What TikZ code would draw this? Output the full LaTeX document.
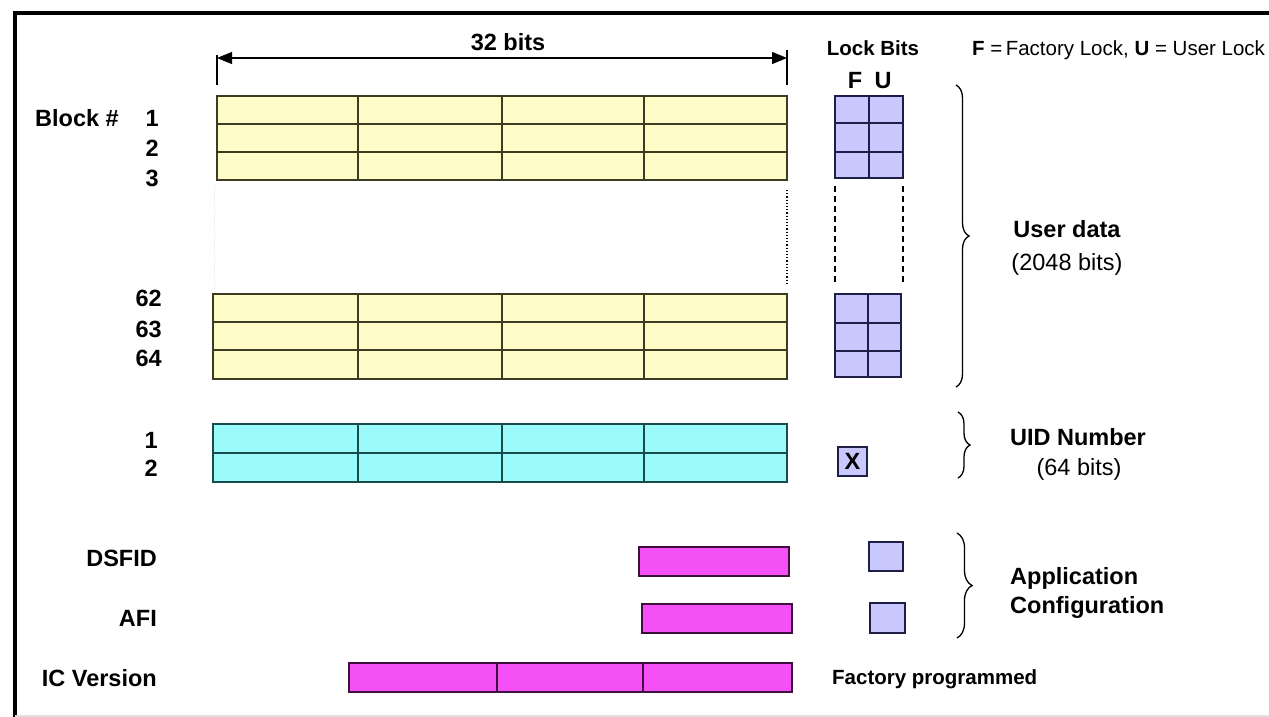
\documentclass[tikz,border=0pt]{standalone}
\usepackage{fontspec}
\setmainfont{Liberation Sans}
\usetikzlibrary{arrows.meta, decorations.pathreplacing, positioning}
\definecolor{blocyellow}{RGB}{255,252,200}
\definecolor{blocline}{RGB}{60,60,35}
\definecolor{uidcyan}{RGB}{155,250,250}
\definecolor{uidline}{RGB}{25,75,75}
\definecolor{cfgpink}{RGB}{245,80,245}
\definecolor{cfgline}{RGB}{60,15,60}
\definecolor{locklav}{RGB}{200,200,255}
\definecolor{lockline}{RGB}{30,30,70}
\tikzset{
  lbl/.style={font=\fontsize{23.5}{26}\selectfont\bfseries, inner sep=0pt, text height=16.8pt, text depth=0pt},
  txt/.style={font=\fontsize{23.5}{26}\selectfont, inner sep=0pt, text height=16.8pt, text depth=0pt},
  smalllbl/.style={font=\fontsize{20.5}{23}\selectfont\bfseries, inner sep=0pt, text height=14.7pt, text depth=0pt},
  smalltxt/.style={font=\fontsize{20.5}{23}\selectfont, inner sep=0pt, text height=14.7pt, text depth=0pt},
  gridline/.style={line width=1.6pt},
  brc/.style={decorate, decoration={brace, amplitude=#1}, line width=1.3pt},
  dimarrow/.style={line width=1.2pt, {Triangle[length=15pt,width=12pt]}-{Triangle[length=15pt,width=12pt]}},
}

\begin{document}
\begin{tikzpicture}[x=1pt, y=-1pt]
  \useasboundingbox (0,0) rectangle (1269,717);
  \fill[white] (0,0) rectangle (1269,717);

  %cadre
  \draw[line width=4.5pt] (15,720) -- (15,13) -- (1275,13);
  \draw[gray!25, line width=1.5pt] (15,716) -- (1269,716);

  %largeur 32 bits
  \coordinate (wl) at (217,58);
  \coordinate (wr) at (787,58);
  \draw[line width=1.2pt] (217,55) -- (217,85);
  \draw[line width=1.2pt] (787,50) -- (787,85);
  \draw[dimarrow] (wl) -- (wr);
  \node[lbl] (width) at (508,42) {32 bits};

  %blocs utilisateur 1-3
  \draw[gridline, draw=blocline, fill=blocyellow] (217,96) rectangle (787,180);
  \foreach \y in {124,152} \draw[gridline, blocline] (217,\y) -- (787,\y);
  \foreach \x in {358,502,644} \draw[gridline, blocline] (\x,96) -- (\x,180);

  %pointilles
  \draw[line width=1.2pt, dotted] (787,190) -- (787,285);
  \draw[gray!20, dotted] (214,185) -- (214,290);

  %blocs utilisateur 62-64
  \draw[gridline, draw=blocline, fill=blocyellow] (213,294) rectangle (787,379);
  \foreach \y in {322,350} \draw[gridline, blocline] (213,\y) -- (787,\y);
  \foreach \x in {358,502,644} \draw[gridline, blocline] (\x,294) -- (\x,379);

  %UID
  \draw[gridline, draw=uidline, fill=uidcyan] (213,424) rectangle (787,482);
  \draw[gridline, uidline] (213,453) -- (787,453);
  \foreach \x in {358,502,644} \draw[gridline, uidline] (\x,424) -- (\x,482);

  %DSFID, AFI, IC version
  \draw[gridline, draw=cfgline, fill=cfgpink] (639,547) rectangle (789,576);
  \draw[gridline, draw=cfgline, fill=cfgpink] (642,604) rectangle (792,633);
  \draw[gridline, draw=cfgline, fill=cfgpink] (349,663) rectangle (792,692);
  \foreach \x in {497,643} \draw[gridline, cfgline] (\x,663) -- (\x,692);

  %bits de verrouillage
  \draw[gridline, draw=lockline, fill=locklav] (835,96) rectangle (903,178);
  \foreach \y in {123,152} \draw[gridline, lockline] (835,\y) -- (903,\y);
  \draw[gridline, lockline] (869,96) -- (869,178);
  \draw[line width=1.3pt, dash pattern=on 6pt off 4pt] (835,186) -- (835,283);
  \draw[line width=1.3pt, dash pattern=on 6pt off 4pt] (903,186) -- (903,283);
  \draw[gridline, draw=lockline, fill=locklav] (835,294) rectangle (901,377);
  \foreach \y in {323,351} \draw[gridline, lockline] (835,\y) -- (901,\y);
  \draw[gridline, lockline] (868,294) -- (868,377);
  \draw[gridline, draw=lockline, fill=locklav] (838,447) rectangle (867,476);
  \node[lbl] (uidlock) at (852.5,461.5) {X};
  \draw[gridline, draw=lockline, fill=locklav] (869,542) rectangle (903,571);
  \draw[gridline, draw=lockline, fill=locklav] (870,603) rectangle (905,633);

  %accolades
  \draw[brc=13pt] (956,85) -- (956,387);
  \draw[brc=12pt] (958,412) -- (958,478);
  \draw[brc=15pt] (957,533) -- (957,638);

  %textes a gauche
  \node[lbl, anchor=west] (blocknum) at (35,118) {Block \#};
  \node[lbl, anchor=east] (b1) at (159,118) {1};
  \node[lbl, anchor=east] (b2) at (159,148) {2};
  \node[lbl, anchor=east] (b3) at (159,178) {3};
  \node[lbl, anchor=east] (b62) at (162,298) {62};
  \node[lbl, anchor=east] (b63) at (162,329) {63};
  \node[lbl, anchor=east] (b64) at (162,358) {64};
  \node[lbl, anchor=east] (u1) at (158,440) {1};
  \node[lbl, anchor=east] (u2) at (158,468) {2};
  \node[lbl, anchor=east] (dsfid) at (157,558) {DSFID};
  \node[lbl, anchor=east] (afi) at (157,618) {AFI};
  \node[lbl, anchor=east] (icver) at (157,678) {IC Version};

  %textes a droite
  \node[smalllbl] (lockbits) at (873,48) {Lock Bits};
  \node[lbl] (flock) at (855,80) {F};
  \node[lbl] (ulock) at (883,80) {U};
  \node[smalltxt, anchor=west] (legend) at (972,48) {\textbf{F} =\,Factory Lock, \textbf{U} = User Lock};
  \node[lbl] (userdata) at (1067,229) {User data};
  \node[txt] (userbits) at (1067,262) {(2048 bits)};
  \node[lbl] (uidnum) at (1078,437) {UID Number};
  \node[txt] (uidbits) at (1079,467) {(64 bits)};
  \node[lbl, anchor=west] (appl) at (1010,576) {Application};
  \node[lbl, anchor=west] (config) at (1010,605) {Configuration};
  \node[smalllbl, anchor=west] (factory) at (832,677) {Factory programmed};
\end{tikzpicture}
\end{document}
